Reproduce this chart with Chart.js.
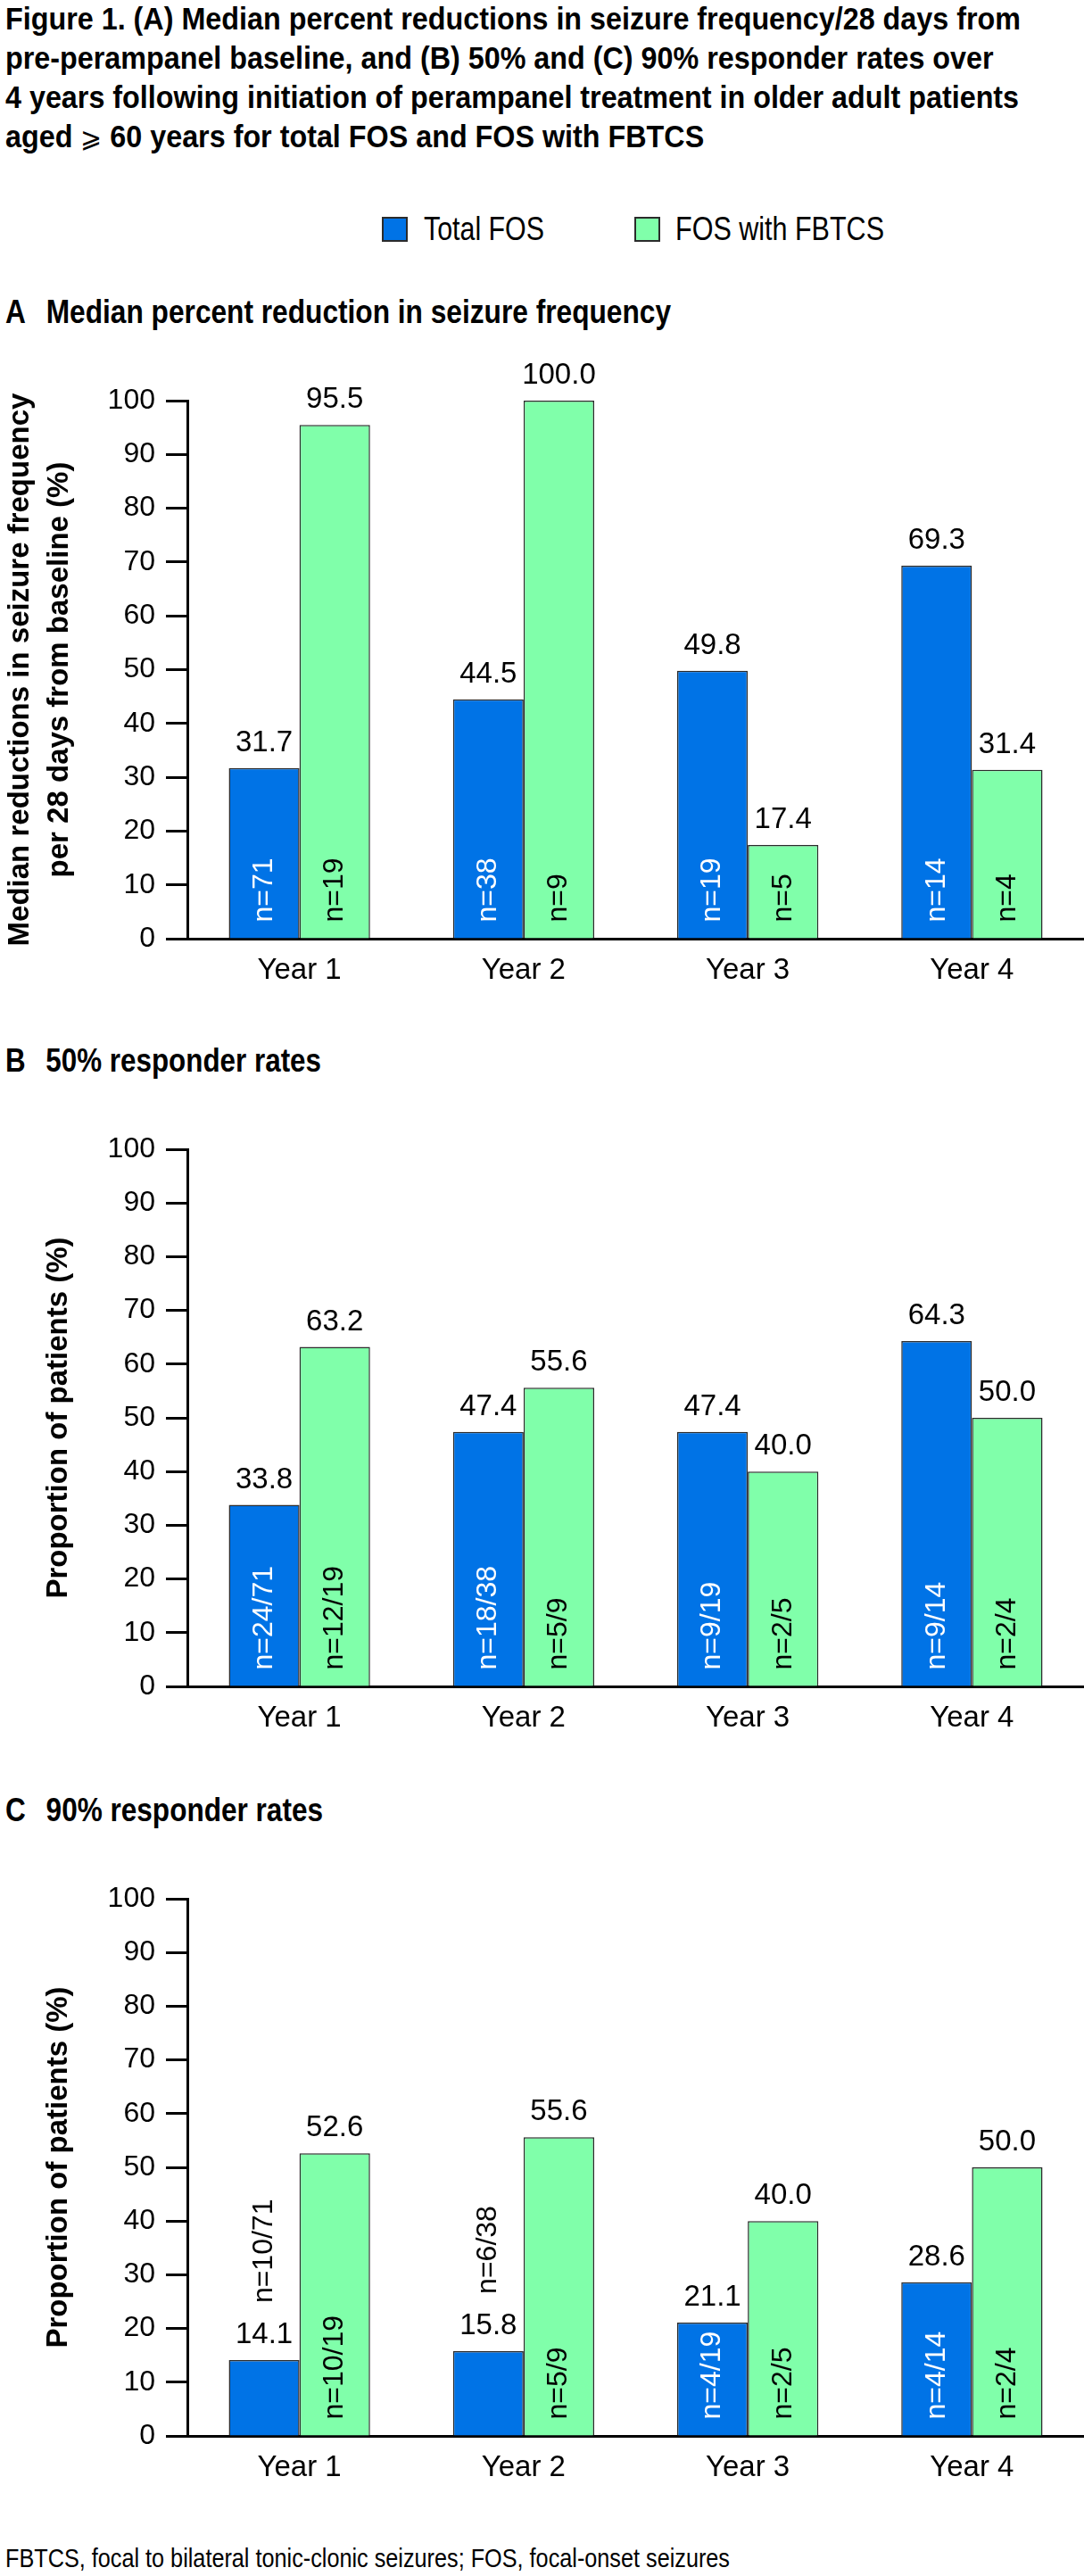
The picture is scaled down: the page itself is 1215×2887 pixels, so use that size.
<!DOCTYPE html>
<html>
<head>
<meta charset="utf-8">
<script src="https://cdn.jsdelivr.net/npm/chart.js@4.4.1/dist/chart.umd.min.js"></script>
<style>
  html, body { margin: 0; padding: 0; background: #fff; }
  body { width: 1215px; height: 2887px; position: relative; overflow: hidden; color: #000;
         font-family: "Liberation Sans", Arial, sans-serif; }
  .fit { position: absolute; display: inline-block; white-space: nowrap; transform-origin: 0 0; }
  #heading { left: 6px; top: -1px; font-weight: bold; font-size: 35px; line-height: 44px; }
  .geq { font-family: "DejaVu Sans", sans-serif; font-weight: normal; font-size: 31px; }
  .panel { left: 6px; font-weight: bold; font-size: 36px; line-height: 36px; }
  .gap { display: inline-block; width: 16px; }
  .legend-box { position: absolute; top: 243px; width: 25px; height: 24px; border: 2px solid #2b2b2b; }
  .legend-text { top: 239px; font-size: 36px; line-height: 36px; }
  #foot { left: 6px; top: 2852px; font-size: 30px; line-height: 30px; }
  canvas { position: absolute; left: 0; }
</style>
</head>
<body>
<div id="heading" class="fit"><span id="line1">Figure 1. (A) Median percent reductions in seizure frequency/28 days from</span><br>pre-perampanel baseline, and (B) 50% and (C) 90% responder rates over<br>4 years following initiation of perampanel treatment in older adult patients<br>aged <span class="geq">⩾</span> 60 years for total FOS and FOS with FBTCS</div>

<div class="legend-box" style="left:428px;background:#0073E6"></div>
<div id="legTotal" class="legend-text fit" style="left:475px">Total FOS</div>
<div class="legend-box" style="left:711px;background:#80FFAA"></div>
<div id="legFbtcs" class="legend-text fit" style="left:757px">FOS with FBTCS</div>

<div id="panelA" class="panel fit" style="top:332px">A<span class="gap"></span> Median percent reduction in seizure frequency</div>
<div id="panelB" class="panel fit" style="top:1171px">B<span class="gap"></span> 50% responder rates</div>
<div id="panelC" class="panel fit" style="top:2011px">C<span class="gap"></span> 90% responder rates</div>

<canvas id="chartA" width="1215" height="752" style="top:380px"></canvas>
<canvas id="chartB" width="1215" height="722" style="top:1248px"></canvas>
<canvas id="chartC" width="1215" height="722" style="top:2088px"></canvas>

<div id="foot" class="fit">FBTCS, focal to bilateral tonic-clonic seizures; FOS, focal-onset seizures</div>

<script>
// ---------------- DONNEES ----------------
const years = ['Year 1', 'Year 2', 'Year 3', 'Year 4'];

// A - réduction médiane de la fréquence des crises (%)
const medianTotal = [31.7, 44.5, 49.8, 69.3];
const medianFbtcs = [95.5, 100.0, 17.4, 31.4];
const medianNTotal = ['n=71', 'n=38', 'n=19', 'n=14'];
const medianNFbtcs = ['n=19', 'n=9', 'n=5', 'n=4'];

// B - répondeurs 50 %
const r50Total = [33.8, 47.4, 47.4, 64.3];
const r50Fbtcs = [63.2, 55.6, 40.0, 50.0];
const r50NTotal = ['n=24/71', 'n=18/38', 'n=9/19', 'n=9/14'];
const r50NFbtcs = ['n=12/19', 'n=5/9', 'n=2/5', 'n=2/4'];

// C - répondeurs 90 %
const r90Total = [14.1, 15.8, 21.1, 28.6];
const r90Fbtcs = [52.6, 55.6, 40.0, 50.0];
const r90NTotal = ['n=10/71', 'n=6/38', 'n=4/19', 'n=4/14'];
const r90NFbtcs = ['n=10/19', 'n=5/9', 'n=2/5', 'n=2/4'];
const r90NAbove = [true, true, false, false]; // barres trop basses : n au-dessus

const BLUE = '#0073E6';
const GREEN = '#80FFAA';
const EDGE = '#2b2b2b';
const SANS = '"Liberation Sans", Arial, sans-serif';

// ---------------- TEXTES ETROITS ----------------
// pas de police "narrow" installée : on comprime horizontalement
function squeeze(el, measured, target) {
    const w = measured.getBoundingClientRect().width;
    el.style.transform = 'scaleX(' + (target / w) + ')';
}
const $ = (id) => document.getElementById(id);
squeeze($('heading'), $('line1'), 1138);
squeeze($('legTotal'), $('legTotal'), 135);
squeeze($('legFbtcs'), $('legFbtcs'), 234);
squeeze($('panelA'), $('panelA'), 746);
squeeze($('panelB'), $('panelB'), 354);
squeeze($('panelC'), $('panelC'), 356);
squeeze($('foot'), $('foot'), 812);

// ---------------- ETIQUETTES DES BARRES ----------------
const barLabels = {
    id: 'barLabels',
    afterDatasetsDraw(chart) {
        const ctx = chart.ctx;
        chart.data.datasets.forEach((ds, i) => {
            chart.getDatasetMeta(i).data.forEach((bar, j) => {
                ctx.save();
                ctx.font = '33px ' + SANS;
                ctx.fillStyle = '#000';
                ctx.textAlign = 'center';
                ctx.textBaseline = 'alphabetic';
                ctx.fillText(ds.data[j].toFixed(1), bar.x, bar.y - 19);

                const above = ds.nAbove && ds.nAbove[j];
                ctx.translate(bar.x, above ? bar.y - 64 : bar.base - 18);
                ctx.rotate(-Math.PI / 2);
                ctx.font = '32px ' + SANS;
                ctx.fillStyle = above ? '#000' : ds.nColor;
                ctx.textAlign = 'left';
                ctx.textBaseline = 'middle';
                ctx.fillText(ds.nLabels[j], 0, 0);
                ctx.restore();
            });
        });
    }
};

function makeChart(id, total, fbtcs, nTotal, nFbtcs, nAbove, yTitle, titlePad, topPad) {
    return new Chart(document.getElementById(id), {
        type: 'bar',
        data: {
            labels: years,
            datasets: [{
                label: 'Total FOS',
                data: total,
                backgroundColor: BLUE,
                borderColor: EDGE,
                borderWidth: 1.5,
                nLabels: nTotal,
                nColor: '#fff',
                nAbove: nAbove
            }, {
                label: 'FOS with FBTCS',
                data: fbtcs,
                backgroundColor: GREEN,
                borderColor: EDGE,
                borderWidth: 1.5,
                nLabels: nFbtcs,
                nColor: '#000'
            }]
        },
        options: {
            responsive: false,
            animation: false,
            categoryPercentage: 0.63,
            barPercentage: 1,
            layout: { padding: { top: topPad, right: 0, bottom: 0, left: 0 } },
            plugins: { legend: { display: false }, tooltip: { enabled: false } },
            scales: {
                x: {
                    grid: { display: false, drawTicks: false },
                    border: { display: true, color: '#000', width: 3 },
                    ticks: { color: '#000', font: { family: SANS, size: 33 }, padding: 16 },
                    afterFit: (s) => { s.height = 80; }
                },
                y: {
                    min: 0,
                    max: 100,
                    ticks: { stepSize: 10, color: '#000', font: { family: SANS, size: 32 }, padding: 12 },
                    grid: { drawOnChartArea: false, drawTicks: true, tickLength: 24, tickWidth: 3, tickColor: '#000' },
                    border: { display: true, color: '#000', width: 3 },
                    title: {
                        display: true,
                        text: yTitle,
                        color: '#000',
                        font: { family: SANS, size: 33, weight: 'bold', lineHeight: '44px' },
                        padding: { top: titlePad, bottom: 0 }
                    },
                    afterFit: (s) => { s.width = 210; }
                }
            }
        },
        plugins: [barLabels]
    });
}

makeChart('chartA', medianTotal, medianFbtcs, medianNTotal, medianNFbtcs, null,
    ['Median reductions in seizure frequency', 'per 28 days from baseline (%)'], 1, 69);
makeChart('chartB', r50Total, r50Fbtcs, r50NTotal, r50NFbtcs, null,
    'Proportion of patients (%)', 44, 40);
makeChart('chartC', r90Total, r90Fbtcs, r90NTotal, r90NFbtcs, r90NAbove,
    'Proportion of patients (%)', 44, 40);
</script>
</body>
</html>
